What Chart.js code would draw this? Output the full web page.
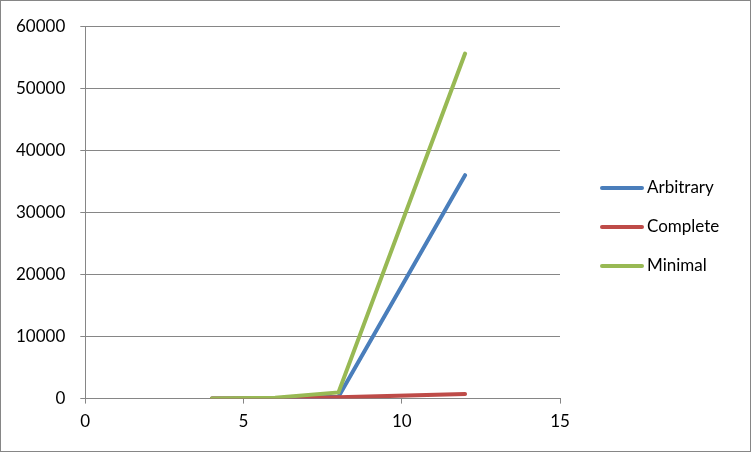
<!DOCTYPE html>
<html>
<head>
<meta charset="utf-8">
<script src="https://cdn.jsdelivr.net/npm/chart.js@4"></script>
<style>
  html, body { margin: 0; padding: 0; background: #fff; }
  #wrap { width: 749px; height: 450px; border: 1px solid #868686; }
</style>
</head>
<body>
<div id="wrap"><canvas id="chart" width="749" height="450"></canvas></div>
<script>
const xValues = [4, 6, 8, 12]
const arbitrary = [10, 50, 300, 36000]
const complete = [5, 30, 200, 750]
const minimal = [20, 150, 1000, 55600]
const seriesNames = ['Arbitrary', 'Complete', 'Minimal']
const seriesColors = ['#4a7ebb', '#be4b48', '#98b954']

const toPoints = (ys) => ys.map((y, i) => ({ x: xValues[i], y }))
const font = { family: 'Lato, "Open Sans", sans-serif', size: 17 }

// Excel-like legend: short line sample + label, stacked to the right of the plot
const sideLegend = {
  id: 'sideLegend',
  afterDraw(chart) {
    const { ctx, chartArea } = chart
    const x0 = chartArea.right + 42
    const midY = chart.height / 2 + 1
    const gap = 39
    ctx.save()
    ctx.font = `${font.size}px ${font.family}`
    ctx.textBaseline = 'middle'
    ctx.fillStyle = '#000'
    chart.data.datasets.forEach((ds, i) => {
      const y = midY + (i - 1) * gap
      ctx.strokeStyle = ds.borderColor
      ctx.lineWidth = 4
      ctx.lineCap = 'round'
      ctx.beginPath()
      ctx.moveTo(x0, y)
      ctx.lineTo(x0 + 40, y)
      ctx.stroke()
      ctx.fillText(ds.label, x0 + 45, y)
    })
    ctx.restore()
  },
}

new Chart(document.getElementById('chart'), {
  type: 'scatter',
  data: {
    datasets: [arbitrary, complete, minimal].map((ys, i) => ({
      label: seriesNames[i],
      data: toPoints(ys),
      showLine: true,
      borderColor: seriesColors[i],
      backgroundColor: seriesColors[i],
      borderWidth: 4,
      pointRadius: 0,
      borderCapStyle: 'round',
      order: seriesNames.length - 1 - i, // later series drawn on top, like Excel
    })),
  },
  plugins: [sideLegend],
  options: {
    responsive: false,
    animation: false,
    layout: { padding: { top: 12, left: 0, right: 190, bottom: 11 } },
    plugins: {
      legend: { display: false },
      tooltip: { enabled: false },
    },
    scales: {
      x: {
        type: 'linear',
        min: 0,
        max: 15,
        ticks: { stepSize: 5, color: '#000', font, padding: 8 },
        grid: { drawOnChartArea: false, tickLength: 5, tickColor: '#868686' },
        border: { color: '#868686' },
      },
      y: {
        min: 0,
        max: 60000,
        ticks: { stepSize: 10000, color: '#000', font, padding: 15, callback: (v) => String(v) },
        grid: { color: '#868686', tickLength: 5, tickColor: '#868686' },
        border: { color: '#868686' },
      },
    },
  },
})
</script>
</body>
</html>
